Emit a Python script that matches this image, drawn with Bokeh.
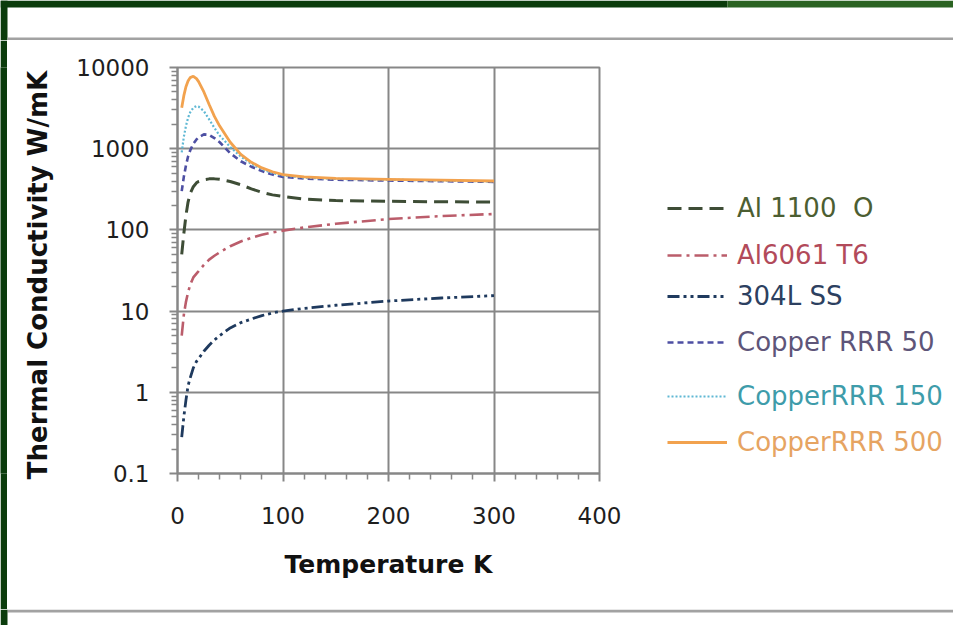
from bokeh.plotting import figure
from bokeh.layouts import column, row
from bokeh.models import (FixedTicker, CustomJSTickFormatter, Legend, LegendItem,
                          BoxAnnotation, Range1d)
from bokeh.embed import file_html
from bokeh.resources import INLINE

# ---------------- data ----------------
temperature_K = [4, 6, 8, 10, 12, 15, 18, 20, 25, 30, 35, 40, 50, 60, 70, 80, 90,
                 100, 120, 150, 200, 250, 300]

k_al1100_o = [50, 90, 150, 220, 280, 340, 380, 395, 415, 425, 425, 420, 395, 360,
              320, 290, 270, 258, 240, 230, 225, 222, 220]
k_al6061_t6 = [5, 9, 13, 17, 21, 26, 29, 31, 37, 43, 48, 53, 63, 72, 80, 87, 93,
               98, 107, 119, 136, 148, 157]
k_304l_ss = [0.28, 0.5, 0.8, 1.2, 1.5, 2.0, 2.4, 2.6, 3.2, 3.8, 4.4, 5.0, 6.2, 7.2,
             8.0, 8.8, 9.5, 10.0, 10.8, 11.8, 13.3, 14.5, 15.5]
k_cu_rrr50 = [300, 450, 620, 800, 950, 1150, 1300, 1380, 1500, 1480, 1350, 1200,
              880, 700, 600, 530, 480, 450, 430, 415, 405, 398, 390]
k_cu_rrr150 = [900, 1400, 1900, 2400, 2800, 3200, 3350, 3300, 2900, 2300, 1800,
               1450, 1050, 800, 650, 560, 500, 470, 440, 425, 415, 405, 395]
k_cu_rrr500 = [3200, 4500, 5800, 6800, 7500, 7800, 7300, 6700, 5000, 3500, 2500,
               1900, 1200, 850, 680, 580, 520, 480, 450, 430, 420, 410, 400]

series_names = ["Al 1100  O", "Al6061 T6", "304L SS", "Copper RRR 50",
                "CopperRRR 150", "CopperRRR 500"]
series_values = [k_al1100_o, k_al6061_t6, k_304l_ss, k_cu_rrr50, k_cu_rrr150, k_cu_rrr500]

x_ticks = [0, 100, 200, 300, 400]
x_minor_ticks = [20, 40, 60, 80, 120, 140, 160, 180, 220, 240, 260, 280, 320, 340, 360, 380]
y_ticks = [0.1, 1, 10, 100, 1000, 10000]

# ---------------- styles ----------------
line_colors = ["#3e4d36", "#bb5d6b", "#1f3a5e", "#4d4fa3", "#5fb8d4", "#f2a24e"]
text_colors = ["#4c5e32", "#b24a5a", "#2c4060", "#5e5579", "#3e9caa", "#e6a462"]
dashes = ["14 7", "14 5 3 5", "12 4 3 4 3 4", "6 4", "2 2", "solid"]
widths = [3.0, 2.6, 2.8, 2.6, 2.2, 2.8]
legend_offsets = [249, 202, 161, 115, 61, 15]

FONT = "DejaVu Sans"
GRID = "#878787"
GREEN = "#0b3c0c"
GREEN_LIGHT = "#2b6322"
SEP = "#a2a2a2"


def blank(width, height, bg="white", xr=None, **kw):
    f = figure(width=width, height=height,
               x_range=xr if xr is not None else Range1d(0, width),
               y_range=Range1d(0, height), output_backend="svg",
               toolbar_location=None, x_axis_location=None, y_axis_location=None,
               background_fill_color=bg, border_fill_color=bg, **kw)
    f.outline_line_color = None
    f.grid.visible = False
    return f


def band(f, left, right, bottom, top, color):
    f.add_layout(BoxAnnotation(left=left, right=right, bottom=bottom, top=top,
                               fill_color=color, fill_alpha=1.0, line_alpha=0))


# top strip of the slide (green edge + grey separator)
top_fig = blank(953, 40, min_border=0)
band(top_fig, 0, 727, 33, 40, GREEN)
band(top_fig, 727, 953, 33, 40, GREEN_LIGHT)
band(top_fig, 0, 7, 0, 40, GREEN)
band(top_fig, 7, 953, 0, 3, SEP)

# bottom strip
bottom_fig = blank(953, 16, min_border=0)
band(bottom_fig, 7, 953, 13, 16, SEP)
band(bottom_fig, 0, 7, 0, 16, GREEN)

left_fig = blank(7, 569, bg=GREEN, min_border=0)

# ---------------- main chart ----------------
p = figure(width=633, height=569, x_range=Range1d(0, 400), y_range=Range1d(0.1, 10000),
           y_axis_type="log", output_backend="svg", toolbar_location=None,
           min_border_left=170, min_border_right=41, min_border_top=27,
           min_border_bottom=136, background_fill_color="white",
           border_fill_color="white")

p.outline_line_color = GRID
p.outline_line_width = 2

p.xaxis.ticker = FixedTicker(ticks=x_ticks, minor_ticks=x_minor_ticks)
p.xaxis.axis_label = "Temperature K"
y_minor = [m * 10.0 ** d for d in range(-1, 4) for m in range(2, 10)]
p.yaxis.ticker = FixedTicker(ticks=y_ticks, minor_ticks=y_minor)
p.yaxis.formatter = CustomJSTickFormatter(code="return tick.toString()")
p.yaxis.axis_label = "Thermal Conductivity  W/mK"

for ax in (p.xaxis, p.yaxis):
    ax.axis_line_color = GRID
    ax.axis_line_width = 2
    ax.major_tick_line_color = GRID
    ax.minor_tick_line_color = GRID
    ax.major_tick_line_width = 2
    ax.minor_tick_line_width = 1.5
    ax.major_tick_in = 0
    ax.minor_tick_in = 0
    ax.major_tick_out = 8
    ax.minor_tick_out = 6
    ax.major_label_text_font = FONT
    ax.major_label_text_font_size = "23px"
    ax.major_label_text_color = "#1e1e1e"
    ax.axis_label_text_font = FONT
    ax.axis_label_text_font_style = "bold"
    ax.axis_label_text_color = "#111111"

p.xaxis.axis_label_text_font_size = "25px"
p.yaxis.axis_label_text_font_size = "26px"
p.xaxis.major_label_standoff = 25
p.xaxis.axis_label_standoff = 23
p.yaxis.major_label_standoff = 20
p.yaxis.axis_label_standoff = 20

p.xgrid.grid_line_color = GRID
p.xgrid.grid_line_width = 2
p.ygrid.grid_line_color = GRID
p.ygrid.grid_line_width = 2

# ---------------- legend panel (frame aligned with the chart's frame) ----------------
leg_fig = blank(313, 569, xr=Range1d(-400, -87), min_border_left=0, min_border_right=0,
                min_border_top=27, min_border_bottom=136)

for name, vals, lc, tc, dash, w, off in zip(series_names, series_values, line_colors,
                                            text_colors, dashes, widths, legend_offsets):
    p.line(temperature_K, vals, line_color=lc, line_dash=dash, line_width=w)
    # same series in the legend panel (outside its visible range) to provide the key glyph
    key = leg_fig.line(temperature_K, vals, line_color=lc, line_dash=dash, line_width=w)
    leg = Legend(items=[LegendItem(label=name, renderers=[key])], location=(27, off),
                 padding=0, margin=0, spacing=0, border_line_alpha=0,
                 background_fill_alpha=0, glyph_width=60, glyph_height=32,
                 label_height=32, label_standoff=10, label_text_font=FONT,
                 label_text_font_size="26px", label_text_color=tc)
    leg_fig.add_layout(leg, "center")

layout = column(top_fig, row(left_fig, p, leg_fig), bottom_fig)

open("out.html", "w").write(file_html(layout, INLINE))
